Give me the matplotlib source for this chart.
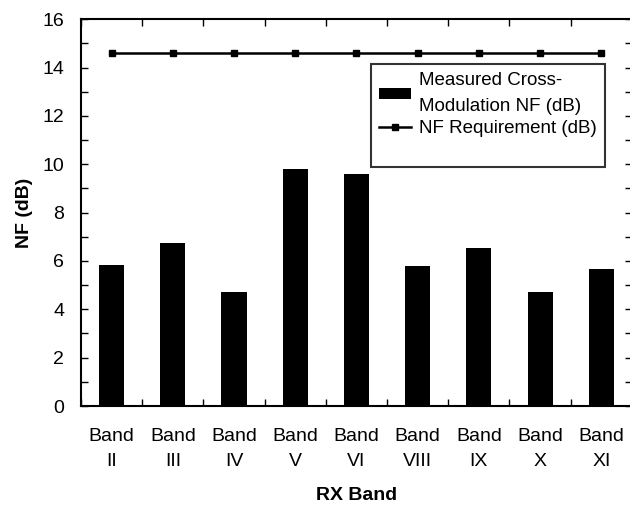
import matplotlib
import matplotlib.pyplot as plt
import numpy as np
from matplotlib.ticker import MultipleLocator, FixedLocator

matplotlib.use('Agg')

plt.rcParams['font.family'] = ['Liberation Sans', 'DejaVu Sans']

# Данные
bands = ['Band\nII', 'Band\nIII', 'Band\nIV', 'Band\nV', 'Band\nVI',
         'Band\nVIII', 'Band\nIX', 'Band\nX', 'Band\nXI']
measured_nf = [5.85, 6.75, 4.71, 9.82, 9.59, 5.81, 6.55, 4.71, 5.65]
nf_requirement = [14.6, 14.6, 14.6, 14.6, 14.6, 14.6, 14.6, 14.6, 14.6]

x = np.arange(len(bands))
fs = 14

fig = plt.figure(figsize=(6.3, 5.05), dpi=100)
ax = fig.add_axes([0.1286, 0.196, 0.8744, 0.766])

bars = ax.bar(x, measured_nf, width=0.41, color='black',
              label='Measured Cross-\nModulation NF (dB)')
line, = ax.plot(x, nf_requirement, color='black', lw=1.8, marker='s',
                markersize=5, label='NF Requirement (dB)')

ax.set_xlim(-0.5, len(bands) - 0.5)
ax.set_ylim(0, 16)
ax.yaxis.set_major_locator(MultipleLocator(2))
ax.yaxis.set_minor_locator(MultipleLocator(1))

# Метки категорий по центру, засечки на границах
ax.set_xticks(x)
ax.set_xticklabels(bands, fontsize=fs, linespacing=1.6)
ax.xaxis.set_minor_locator(FixedLocator(np.arange(-0.5, len(bands), 1.0)))
ax.tick_params(axis='x', which='major', length=0, pad=16)
ax.tick_params(axis='x', which='minor', direction='in', length=5, top=True,
               width=1)
ax.tick_params(axis='y', which='both', direction='in', length=5, right=True,
               width=1, labelsize=fs, pad=12)

for s in ax.spines.values():
    s.set_linewidth(1.5)

ax.set_xlabel('RX Band', fontsize=fs, fontweight='bold', labelpad=12)
ax.set_ylabel('NF (dB)', fontsize=fs, fontweight='bold', labelpad=7)

# пустая строка внизу легенды, как в Excel
blank = plt.Line2D([], [], linestyle='none')
leg = ax.legend([bars, line, blank],
                [bars.get_label(), line.get_label(), ' '],
                loc='upper left', bbox_to_anchor=(0.526, 0.885), fontsize=13.5,
                frameon=True, fancybox=False, edgecolor='black',
                handlelength=1.7, handleheight=0.5, handletextpad=0.4,
                borderpad=0.45, labelspacing=0.25, borderaxespad=0)
leg.get_frame().set_linewidth(1.5)
for t in leg.get_texts():
    t.set_linespacing(1.7)

fig.savefig('out.png', dpi=100)
